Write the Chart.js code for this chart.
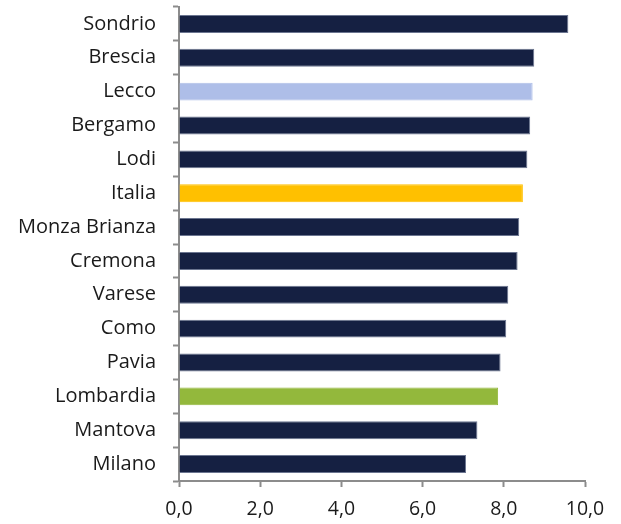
<!DOCTYPE html>
<html><head><meta charset="utf-8">
<script src="https://cdn.jsdelivr.net/npm/chart.js@4"></script>
<style>html,body{margin:0;padding:0;background:#fff}#wrap{width:621px;height:524px}</style>
</head><body><div id="wrap"><canvas id="c" width="621" height="524"></canvas></div>
<script>
const categories = ["Sondrio","Brescia","Lecco","Bergamo","Lodi","Italia","Monza Brianza","Cremona","Varese","Como","Pavia","Lombardia","Mantova","Milano"];
const values = [9.59,8.75,8.71,8.65,8.58,8.47,8.38,8.34,8.11,8.06,7.92,7.86,7.35,7.07];
const barColors = ["#152042","#152042","#AEBEE8","#152042","#152042","#FFC000","#152042","#152042","#152042","#152042","#152042","#93B83C","#152042","#152042"];
const borderColors = ["#6b7590","#6b7590","#AEBEE8","#6b7590","#6b7590","#FFC000","#6b7590","#6b7590","#6b7590","#6b7590","#6b7590","#93B83C","#6b7590","#6b7590"];
const xTicks = [0,2,4,6,8,10];
const fontFam = "'Open Sans', 'Noto Sans', sans-serif";
new Chart(document.getElementById('c'), {
  type: 'bar',
  data: { labels: categories, datasets: [{ data: values, backgroundColor: barColors, borderColor: borderColors, borderWidth: 1, categoryPercentage: 1, barPercentage: 0.53 }] },
  options: {
    indexAxis: 'y', responsive: false, animation: false,
    layout: { padding: { left: 0, right: 36, top: 7, bottom: 0 }, autoPadding: false },
    plugins: { legend: { display: false }, tooltip: { enabled: false } },
    scales: {
      x: {
        min: 0, max: 10,
        afterBuildTicks: s => { s.ticks = xTicks.map(v => ({ value: v })); },
        afterFit: s => { s.height = 43; s.paddingLeft = 0; s.paddingRight = 0; },
        ticks: { color: '#1a1a1a', font: { family: fontFam, size: 19.5 }, padding: 11, maxRotation: 0, callback: v => v.toFixed(1).replace('.', ',') },
        grid: { drawOnChartArea: false, drawTicks: true, tickLength: 6, tickColor: '#8c8c8c', tickWidth: 2 },
        border: { color: '#8c8c8c', width: 2 }
      },
      y: {
        afterFit: s => { s.width = 179; s.paddingTop = 0; s.paddingBottom = 0; },
        ticks: { color: '#1a1a1a', font: { family: fontFam, size: 20 }, padding: 17 },
        grid: { offset: true, drawOnChartArea: false, drawTicks: true, tickLength: 6, tickColor: '#8c8c8c', tickWidth: 2 },
        border: { color: '#8c8c8c', width: 2 }
      }
    }
  }
});
</script></body></html>
